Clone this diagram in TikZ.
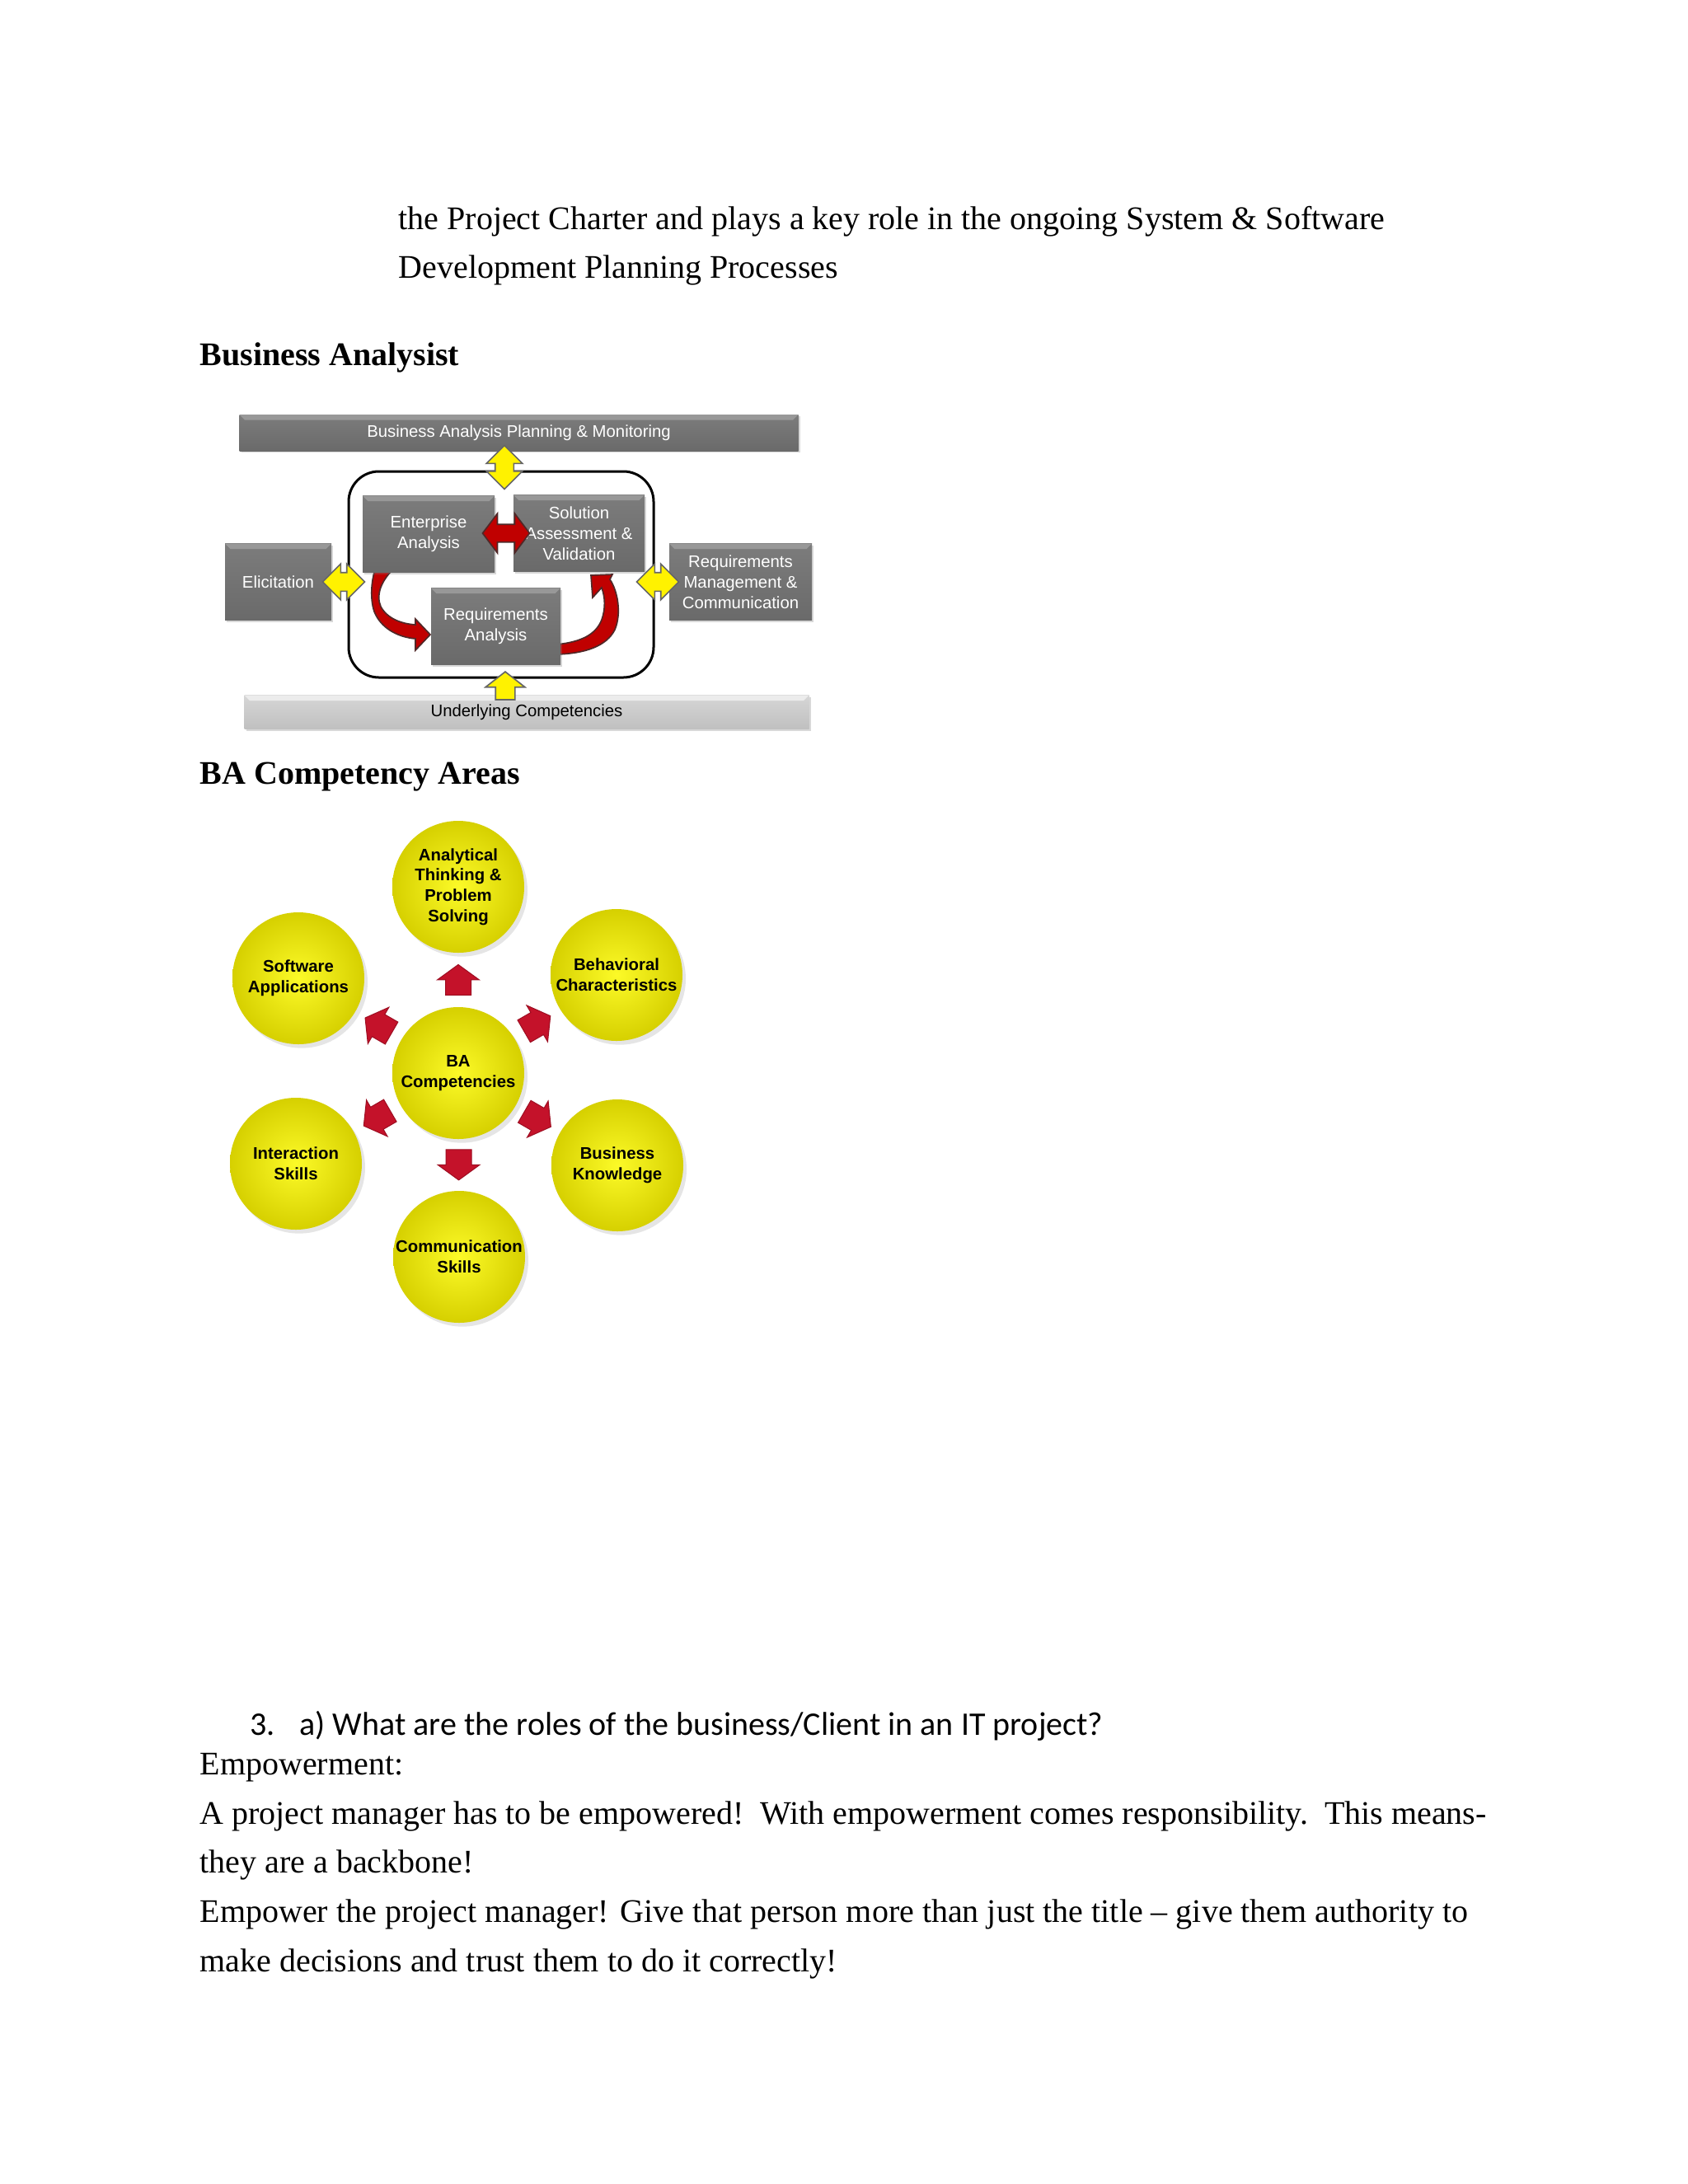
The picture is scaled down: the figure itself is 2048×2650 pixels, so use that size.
\documentclass[tikz,border=0pt]{standalone}
\usepackage{fontspec}
\setmainfont{Liberation Serif}
\newfontfamily\arialfont{Liberation Sans}
\newfontfamily\calibrifont{Carlito}
\usetikzlibrary{shapes.arrows, shadows, calc}

\definecolor{boxface}{RGB}{106,106,106}
\definecolor{boxlight}{RGB}{124,124,124}
\definecolor{boxbevel}{RGB}{152,152,152}
\definecolor{barface}{RGB}{192,192,192}
\definecolor{barlight}{RGB}{214,214,214}
\definecolor{barbevel}{RGB}{236,236,236}
\definecolor{curvered}{RGB}{192,0,0}
\definecolor{curveedge}{RGB}{80,40,40}
\definecolor{pinred}{RGB}{196,18,42}
\definecolor{ballin}{RGB}{252,250,40}
\definecolor{ballout}{RGB}{214,208,0}

% one unit = one pixel of the scanned page
\def\pu{0.3pt}

\begin{document}
\begin{tikzpicture}[
  x=0.3pt, y=-0.3pt,
  body/.style={anchor=base west, inner sep=0pt, font=\fontsize{12}{14}\selectfont},
  head/.style={body, font=\fontsize{12}{14}\selectfont\bfseries},
  bevel/.style={path picture={\fill[#1] (path picture bounding box.north west)
      -- (path picture bounding box.north east)
      -- ([xshift=-2pt,yshift=-2pt]path picture bounding box.north east)
      -- ([xshift=2pt,yshift=-2pt]path picture bounding box.north west) -- cycle;}},
  procbox/.style={rectangle, inner sep=0pt, top color=boxlight, bottom color=boxface, bevel=boxbevel,
    text=white, align=center, font=\arialfont\fontsize{6.1}{7.5}\selectfont,
    drop shadow={opacity=0.3, shadow xshift=0.7pt, shadow yshift=-0.7pt}},
  barbox/.style={procbox, top color=barlight, bottom color=barface, bevel=barbevel, text=black},
  loopbox/.style={rectangle, draw, line width=0.9pt, rounded corners=11pt, inner sep=0pt},
  yarrow/.style={fill=yellow, draw=black!60, line width=0.5pt, inner xsep=0pt, inner ysep={10.5*\pu}},
  redarrow/.style={fill=curvered, draw=curveedge, line width=0.5pt},
  ball/.style={circle, inner sep=0pt, minimum size={160*\pu}, inner color=ballin, outer color=ballout,
    align=center, font=\arialfont\bfseries\fontsize{6.1}{7.4}\selectfont,
    drop shadow={opacity=0.2, shadow xshift=1.2pt, shadow yshift=-1.4pt}},
  pin/.style={single arrow, fill=pinred, draw=pinred!80!black, line width=0.3pt, inner xsep=0pt,
    inner ysep={15*\pu}, single arrow head extend={10*\pu}, single arrow tip angle=108,
    minimum height={37*\pu}, anchor=tip}
]
% page background and size
\fill[white] (0,0) rectangle (2048,2650);
\useasboundingbox (0,0) rectangle (2048,2650);

% text above the first figure
\node[body] (txa) at (483,278) {the Project Charter and plays a key role in the ongoing System \& Software};
\node[body] (txb) at (483,337) {Development Planning Processes};
\node[head] (hba) at (242,443) {Business Analysist};

% knowledge areas
\node[loopbox, minimum width={370*\pu}, minimum height={250*\pu}] (loop) at (608,697) {};
\draw[redarrow] (480,688) .. controls (462,704) and (456,722) .. (462,736)
  .. controls (470,751) and (488,757) .. (504,758) -- (504,751) -- (522,770)
  -- (504,789) -- (504,775) .. controls (482,773) and (462,762) .. (454,742)
  .. controls (449,727) and (450,705) .. (456,688) -- cycle;
\draw[redarrow] (675,782) .. controls (705,779) and (723,770) .. (730,752)
  .. controls (735,738) and (734,724) .. (730,713) -- (719,725) -- (717,698)
  -- (743,697) -- (740,703) .. controls (750,718) and (754,745) .. (746,764)
  .. controls (736,784) and (710,793) .. (675,794) -- cycle;

\node[procbox, minimum width={678*\pu}, minimum height={44*\pu}] (plan) at (629.5,525) {Business Analysis Planning \& Monitoring};
\node[procbox, minimum width={129*\pu}, minimum height={93*\pu}] (elic) at (337.5,706) {Elicitation};
\node[procbox, minimum width={160*\pu}, minimum height={93*\pu}] (ent) at (520,648) {Enterprise\\Analysis};
\node[procbox, minimum width={159*\pu}, minimum height={93*\pu}] (sol) at (702.5,647) {Solution\\Assessment \&\\Validation};
\node[procbox, minimum width={157*\pu}, minimum height={93*\pu}] (reqa) at (601.5,760) {Requirements\\Analysis};
\node[procbox, minimum width={173*\pu}, minimum height={93*\pu}] (rmc) at (898.5,706) {Requirements\\Management \&\\Communication};
\node[barbox, minimum width={685*\pu}, minimum height={41*\pu}] (comp) at (639,864) {Underlying Competencies};

\node[double arrow, yarrow, rotate=90, minimum height={53*\pu}, double arrow head extend={10.5*\pu}] (ya1) at (612,567) {};
\node[double arrow, yarrow, minimum height={51*\pu}, double arrow head extend={10.5*\pu}] (ya2) at (417,706) {};
\node[double arrow, yarrow, minimum height={51*\pu}, double arrow head extend={10.5*\pu}] (ya3) at (798,706) {};
\node[single arrow, yarrow, rotate=90, anchor=tip, inner ysep={11*\pu}, minimum height={34*\pu},
  single arrow head extend={12*\pu}, single arrow tip angle=104] (ya4) at (613,814) {};
\node[double arrow, redarrow, inner xsep=0pt, inner ysep={10*\pu}, minimum height={57*\pu},
  double arrow head extend={13*\pu}, double arrow tip angle=106] (ra) at (614,647) {};

% competency areas
\node[head] (hbc) at (242,951) {BA Competency Areas};
\node[ball] (bac) at (556,1302) {BA\\Competencies};
\node[ball] (atp) at (556,1076) {Analytical\\Thinking \&\\Problem\\Solving};
\node[ball] (bch) at (748,1183) {Behavioral\\Characteristics};
\node[ball] (bkn) at (749,1414) {Business\\Knowledge};
\node[ball] (cms) at (557,1525) {Communication\\Skills};
\node[ball] (ins) at (359,1412) {Interaction\\Skills};
\node[ball] (swa) at (362,1187) {Software\\Applications};
\node[pin, rotate=90] (p1) at ($(bac)!0.585!(atp)$) {};
\node[pin, rotate=30] (p2) at ($(bac)!0.585!(bch)$) {};
\node[pin, rotate=-30] (p3) at ($(bac)!0.585!(bkn)$) {};
\node[pin, rotate=-90] (p4) at ($(bac)!0.585!(cms)$) {};
\node[pin, rotate=-150] (p5) at ($(bac)!0.585!(ins)$) {};
\node[pin, rotate=150] (p6) at ($(bac)!0.585!(swa)$) {};

% question 3
\node[body, font=\calibrifont\fontsize{12}{14}\selectfont] (q3n) at (303,2105) {3.};
\node[body, font=\calibrifont\fontsize{12}{14}\selectfont] (q3a) at (363,2105) {a) What are the roles of the business/Client in an IT project?};
\node[body] (emp) at (242,2153) {Empowerment:};
\node[body] (pa) at (242,2213) {A project manager has to be empowered!\ \ With empowerment comes responsibility.\ \ This means-};
\node[body] (pb) at (242,2272) {they are a backbone!};
\node[body] (pc) at (242,2332) {Empower the project manager! Give that person more than just the title -- give them authority to};
\node[body] (pd) at (242,2392) {make decisions and trust them to do it correctly!};
\end{tikzpicture}
\end{document}
